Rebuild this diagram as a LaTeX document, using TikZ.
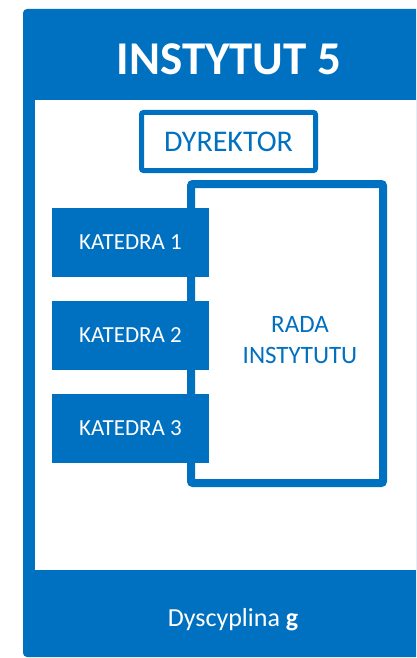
\documentclass[tikz,border=0pt]{standalone}
\usepackage{fontspec}
\setmainfont{Carlito}
\definecolor{instblue}{HTML}{0070C0}
\begin{document}
\begin{tikzpicture}[x=1pt, y=-1pt,
    katbox/.style={fill=instblue, text=white, minimum width=157pt, minimum height=69pt,
                   inner sep=0pt, font=\fontsize{23}{28}\selectfont},
    framebox/.style={draw=instblue, rounded corners=2pt, inner sep=0pt}]
  \useasboundingbox (0,0) rectangle (416,658);
  \clip (0,0) rectangle (416,658);
  \fill [instblue, rounded corners=4pt] (23,9) rectangle (440,657);
  \fill [white] (35,100) rectangle (440,570);
  \node [anchor=base, text=white, font=\fontsize{47}{56}\selectfont\bfseries] (inst) at (229,75) {INSTYTUT 5};
  \node [framebox, line width=5pt, minimum width=174pt, minimum height=58pt, text=instblue,
         font=\fontsize{30}{36}\selectfont] (dyr) at (228.5,141.5) {DYREKTOR};
  \node [framebox, line width=8pt, minimum width=192pt, minimum height=299pt] (rada) at (287,333.5) {};
  \node [align=center, text=instblue, font=\fontsize{25}{31}\selectfont] (radatxt) at (300,340.5) {RADA\\INSTYTUTU};
  \node [katbox] (kat1) at (130.5,242.5) {KATEDRA 1};
  \node [katbox] (kat2) at (130.5,335.5) {KATEDRA 2};
  \node [katbox] (kat3) at (130.5,428.5) {KATEDRA 3};
  \node [anchor=base, text=white, font=\fontsize{26}{31}\selectfont] (dysc) at (233,626) {Dyscyplina \textbf{g}};
\end{tikzpicture}
\end{document}
